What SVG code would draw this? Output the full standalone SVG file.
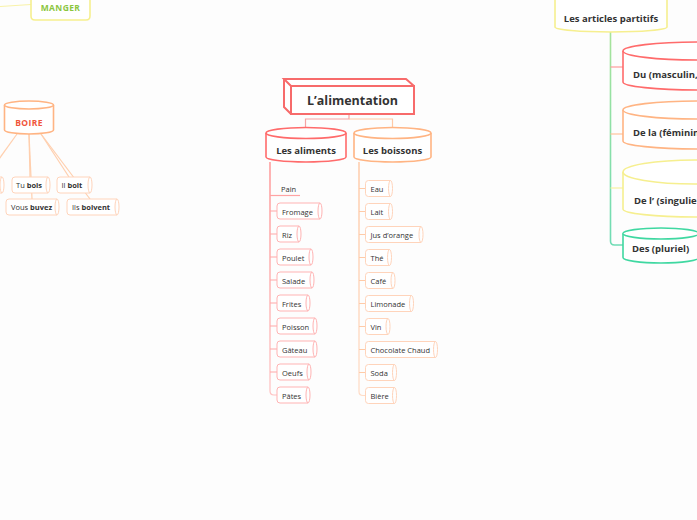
<svg xmlns="http://www.w3.org/2000/svg" width="697" height="520" viewBox="0 0 697 520">
<defs>
<style>
text{font-family:"Open Sans","Noto Sans","Liberation Sans",sans-serif;fill:#333;dominant-baseline:central}
.b{font-weight:bold}
.it{font-size:7.5px}
.hd{font-size:9.5px;font-weight:bold}
.red{fill:#fff;stroke:#ff6b6b;stroke-width:1.6}
.org{fill:#fff;stroke:#ffb483;stroke-width:1.6}
.yel{fill:#fff;stroke:#f6ef8f;stroke-width:1.6}
.grn{fill:#fff;stroke:#3fd8a1;stroke-width:1.6}
.ia{fill:#fff;stroke:#ffb3b3;stroke-width:1}
.ib{fill:#fff;stroke:#ffd4bb;stroke-width:1}
.ic{fill:#fff;stroke:#ffd4bb;stroke-width:1}
.cn{fill:none;stroke-width:1.2}
</style>
<linearGradient id="ga" x1="0" y1="0" x2="0" y2="1"><stop offset="0" stop-color="#ff7f7f"/><stop offset="1" stop-color="#ffc2c2"/></linearGradient>
<linearGradient id="gb" x1="0" y1="0" x2="0" y2="1"><stop offset="0" stop-color="#ffbf95"/><stop offset="1" stop-color="#ffdcc6"/></linearGradient>
<linearGradient id="gg" x1="0" y1="0" x2="0" y2="1"><stop offset="0" stop-color="#a8e39a"/><stop offset="1" stop-color="#6fdcb5"/></linearGradient>
</defs>
<rect width="697" height="520" fill="#fdfdfd"/>

<g id="connectors" class="cn">
<path d="M0,6.5 L31,4.5" stroke="#f8f2a8"/>
<path d="M17,134 L-6,166" stroke="#ffcfae"/>
<path d="M29,134 L30,177" stroke="#ffcfae"/>
<path d="M29,134 L32,199" stroke="#ffcfae"/>
<path d="M41,134 L69,177" stroke="#ffcfae"/>
<path d="M41,134 L90,199" stroke="#ffcfae"/>
<path d="M349,114 V119 H305.5 V127" stroke="#f7a3a3"/>
<path d="M349,119 H392.5 V127" stroke="#ffc9a6"/>
<path d="M270,162 V391 Q270,395 274,395 H277" stroke="url(#ga)"/>
<path d="M270,195.5 H300" stroke="#ffa3a3"/>
<path d="M270,211 H277 M270,234 H277 M270,257 H277 M270,280 H277 M270,303 H277 M270,326 H277 M270,349 H277 M270,372 H277" stroke="#ffa8a8"/>
<path d="M359,162 V391.5 Q359,395.5 363,395.5 H365.5" stroke="url(#gb)"/>
<path d="M359,188.5 H365.5 M359,211.5 H365.5 M359,234.5 H365.5 M359,257.5 H365.5 M359,280.5 H365.5 M359,303.5 H365.5 M359,326.5 H365.5 M359,349.5 H365.5 M359,372.5 H365.5" stroke="#ffcba8"/>
<path d="M610.5,32 V241 Q610.5,245 614.5,245 H623" stroke="url(#gg)" stroke-width="1.6"/>
<path d="M610.5,67 H623" stroke="#ff9a9a"/>
<path d="M610.5,134 H623" stroke="#ffc39c"/>
<path d="M610.5,188 H623" stroke="#f8f2a0"/>
</g>

<g id="manger">
<path class="yel" d="M31,-5 V16 Q31,20 35,20 H86 Q90,20 90,16 V-5"/>
<text x="60.5" y="7" style="font-size:8.5px;font-weight:bold;fill:#8cc63f;letter-spacing:0.4px" text-anchor="middle">MANGER</text>
</g>

<g id="boire">
<path class="org" d="M4.5,105 A24.5,4 0 0 1 53.5,105 V130 A24.5,4 0 0 1 4.5,130 Z"/>
<path class="org" d="M4.5,105 A24.5,4 0 0 0 53.5,105" fill="none"/>
<text x="29" y="122" text-anchor="middle" style="font-size:8.5px;font-weight:bold;fill:#f0553a;letter-spacing:0.4px">BOIRE</text>
</g>

<g id="je-bois">
<path class="ic" d="M-40,177 H2 A2,8 0 0 1 2,193 H-40 Z M2,177 A2,8 0 0 0 2,193"/>
</g>
<g id="tu-bois">
<path class="ic" d="M15,177 H48 A2,8 0 0 1 48,193 H15 Q12,193 12,190 V180 Q12,177 15,177 Z M48,177 A2,8 0 0 0 48,193"/>
<text x="16" y="185" class="it">Tu <tspan class="b">bois</tspan></text>
</g>
<g id="il-boit">
<path class="ic" d="M60,177 H90 A2,8 0 0 1 90,193 H60 Q57,193 57,190 V180 Q57,177 60,177 Z M90,177 A2,8 0 0 0 90,193"/>
<text x="61.5" y="185" class="it">Il <tspan class="b">boit</tspan></text>
</g>
<g id="vous-buvez">
<path class="ic" d="M9,199 H57 A2,8 0 0 1 57,215 H9 Q6,215 6,212 V202 Q6,199 9,199 Z M57,199 A2,8 0 0 0 57,215"/>
<text x="11" y="207" class="it">Vous <tspan class="b">buvez</tspan></text>
</g>
<g id="ils-boivent">
<path class="ic" d="M70,199 H117 A2,8 0 0 1 117,215 H70 Q67,215 67,212 V202 Q67,199 70,199 Z M117,199 A2,8 0 0 0 117,215"/>
<text x="72" y="207" class="it">Ils <tspan class="b">boivent</tspan></text>
</g>

<g id="alimentation">
<path d="M284,79 H406 L414,86 V114 H291 L284,107 Z" fill="#fff"/>
<path d="M291,86 L284,79 H406 L414,86 M284,79 V107 L291,114" fill="none" stroke="#f76b6b" stroke-width="2"/>
<rect x="291" y="86" width="123" height="28" fill="#fff" stroke="#f76b6b" stroke-width="2"/>
<text x="352.5" y="100.5" text-anchor="middle" class="b" style="font-size:12.5px">L’alimentation</text>
</g>

<g id="aliments">
<path class="red" d="M266,133 A40,5.5 0 0 1 346,133 V157 A40,5 0 0 1 266,157 Z"/>
<path class="red" d="M266,133 A40,5.5 0 0 0 346,133" fill="none"/>
<text x="306" y="150" text-anchor="middle" class="hd">Les aliments</text>
</g>
<g id="boissons">
<path class="org" d="M354,133 A38.5,5.5 0 0 1 431,133 V157 A38.5,5 0 0 1 354,157 Z"/>
<path class="org" d="M354,133 A38.5,5.5 0 0 0 431,133" fill="none"/>
<text x="392.5" y="150" text-anchor="middle" class="hd">Les boissons</text>
</g>

<g id="pain"><text x="281" y="188.5" class="it">Pain</text></g>
<g id="fromage"><path class="ia" d="M280,203 H320 A2,8 0 0 1 320,219 H280 Q277,219 277,216 V206 Q277,203 280,203 Z M320,203 A2,8 0 0 0 320,219"/><text x="282" y="211.5" class="it">Fromage</text></g>
<g id="riz"><path class="ia" d="M280,226 H299 A2,8 0 0 1 299,242 H280 Q277,242 277,239 V229 Q277,226 280,226 Z M299,226 A2,8 0 0 0 299,242"/><text x="282" y="234.5" class="it">Riz</text></g>
<g id="poulet"><path class="ia" d="M280,249 H311 A2,8 0 0 1 311,265 H280 Q277,265 277,262 V252 Q277,249 280,249 Z M311,249 A2,8 0 0 0 311,265"/><text x="282" y="257.5" class="it">Poulet</text></g>
<g id="salade"><path class="ia" d="M280,272 H312 A2,8 0 0 1 312,288 H280 Q277,288 277,285 V275 Q277,272 280,272 Z M312,272 A2,8 0 0 0 312,288"/><text x="282" y="280.5" class="it">Salade</text></g>
<g id="frites"><path class="ia" d="M280,295 H308 A2,8 0 0 1 308,311 H280 Q277,311 277,308 V298 Q277,295 280,295 Z M308,295 A2,8 0 0 0 308,311"/><text x="282" y="303.5" class="it">Frites</text></g>
<g id="poisson"><path class="ia" d="M280,318 H315 A2,8 0 0 1 315,334 H280 Q277,334 277,331 V321 Q277,318 280,318 Z M315,318 A2,8 0 0 0 315,334"/><text x="282" y="326.5" class="it">Poisson</text></g>
<g id="gateau"><path class="ia" d="M280,341 H315 A2,8 0 0 1 315,357 H280 Q277,357 277,354 V344 Q277,341 280,341 Z M315,341 A2,8 0 0 0 315,357"/><text x="282" y="349.5" class="it">Gâteau</text></g>
<g id="oeufs"><path class="ia" d="M280,364 H309 A2,8 0 0 1 309,380 H280 Q277,380 277,377 V367 Q277,364 280,364 Z M309,364 A2,8 0 0 0 309,380"/><text x="282" y="372.5" class="it">Oeufs</text></g>
<g id="pates"><path class="ia" d="M280,387 H308 A2,8 0 0 1 308,403 H280 Q277,403 277,400 V390 Q277,387 280,387 Z M308,387 A2,8 0 0 0 308,403"/><text x="282" y="395.5" class="it">Pâtes</text></g>

<g id="eau"><path class="ib" d="M368.5,180.5 H390.5 A2,8 0 0 1 390.5,196.5 H368.5 Q365.5,196.5 365.5,193.5 V183.5 Q365.5,180.5 368.5,180.5 Z M390.5,180.5 A2,8 0 0 0 390.5,196.5"/><text x="370.5" y="189" class="it">Eau</text></g>
<g id="lait"><path class="ib" d="M368.5,203.5 H390.5 A2,8 0 0 1 390.5,219.5 H368.5 Q365.5,219.5 365.5,216.5 V206.5 Q365.5,203.5 368.5,203.5 Z M390.5,203.5 A2,8 0 0 0 390.5,219.5"/><text x="370.5" y="212" class="it">Lait</text></g>
<g id="jus"><path class="ib" d="M368.5,226.5 H421 A2,8 0 0 1 421,242.5 H368.5 Q365.5,242.5 365.5,239.5 V229.5 Q365.5,226.5 368.5,226.5 Z M421,226.5 A2,8 0 0 0 421,242.5"/><text x="370.5" y="235" class="it">Jus d’orange</text></g>
<g id="the"><path class="ib" d="M368.5,249.5 H389.5 A2,8 0 0 1 389.5,265.5 H368.5 Q365.5,265.5 365.5,262.5 V252.5 Q365.5,249.5 368.5,249.5 Z M389.5,249.5 A2,8 0 0 0 389.5,265.5"/><text x="370.5" y="258" class="it">Thé</text></g>
<g id="cafe"><path class="ib" d="M368.5,272.5 H393 A2,8 0 0 1 393,288.5 H368.5 Q365.5,288.5 365.5,285.5 V275.5 Q365.5,272.5 368.5,272.5 Z M393,272.5 A2,8 0 0 0 393,288.5"/><text x="370.5" y="281" class="it">Café</text></g>
<g id="limonade"><path class="ib" d="M368.5,295.5 H411.5 A2,8 0 0 1 411.5,311.5 H368.5 Q365.5,311.5 365.5,308.5 V298.5 Q365.5,295.5 368.5,295.5 Z M411.5,295.5 A2,8 0 0 0 411.5,311.5"/><text x="370.5" y="304" class="it">Limonade</text></g>
<g id="vin"><path class="ib" d="M368.5,318.5 H388 A2,8 0 0 1 388,334.5 H368.5 Q365.5,334.5 365.5,331.5 V321.5 Q365.5,318.5 368.5,318.5 Z M388,318.5 A2,8 0 0 0 388,334.5"/><text x="370.5" y="327" class="it">Vin</text></g>
<g id="chocolate"><path class="ib" d="M368.5,341.5 H435.5 A2,8 0 0 1 435.5,357.5 H368.5 Q365.5,357.5 365.5,354.5 V344.5 Q365.5,341.5 368.5,341.5 Z M435.5,341.5 A2,8 0 0 0 435.5,357.5"/><text x="370.5" y="350" class="it">Chocolate Chaud</text></g>
<g id="soda"><path class="ib" d="M368.5,364.5 H394.5 A2,8 0 0 1 394.5,380.5 H368.5 Q365.5,380.5 365.5,377.5 V367.5 Q365.5,364.5 368.5,364.5 Z M394.5,364.5 A2,8 0 0 0 394.5,380.5"/><text x="370.5" y="373" class="it">Soda</text></g>
<g id="biere"><path class="ib" d="M368.5,387.5 H394.5 A2,8 0 0 1 394.5,403.5 H368.5 Q365.5,403.5 365.5,400.5 V390.5 Q365.5,387.5 368.5,387.5 Z M394.5,387.5 A2,8 0 0 0 394.5,403.5"/><text x="370.5" y="396" class="it">Bière</text></g>

<g id="articles">
<path class="yel" d="M555,-10 V27 A56,5 0 0 0 667,27 V-10"/>
<text x="611" y="18" text-anchor="middle" class="hd">Les articles partitifs</text>
</g>
<g id="du">
<path class="red" d="M623,51 A75,9 0 0 1 773,51 V82 A75,8 0 0 1 623,82 Z"/>
<path class="red" d="M623,51 A75,9 0 0 0 773,51" fill="none"/>
<text x="633" y="74" class="hd">Du (masculin,</text>
</g>
<g id="dela">
<path class="org" d="M623,110 A75,9 0 0 1 773,110 V141 A75,8 0 0 1 623,141 Z"/>
<path class="org" d="M623,110 A75,9 0 0 0 773,110" fill="none"/>
<text x="633" y="132" class="hd">De la (féminin</text>
</g>
<g id="del">
<path class="yel" d="M623,172 A72,12 0 0 1 767,172 V209 A72,8 0 0 1 623,209 Z"/>
<path class="yel" d="M623,172 A72,12 0 0 0 767,172" fill="none"/>
<text x="634" y="200" class="hd">De l’ (singulier</text>
</g>
<g id="des">
<path class="grn" d="M623,233.5 A38,5.5 0 0 1 699,233.5 V257.5 A38,5.5 0 0 1 623,257.5 Z"/>
<path class="grn" d="M623,233.5 A38,5.5 0 0 0 699,233.5" fill="none"/>
<text x="632" y="248.5" class="hd">Des (pluriel)</text>
</g>
</svg>
